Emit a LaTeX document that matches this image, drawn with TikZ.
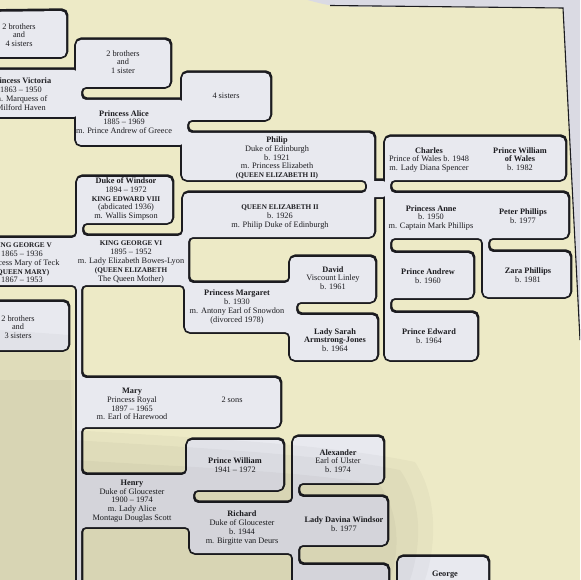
\documentclass[tikz,border=0pt]{standalone}
\usepackage{fontspec}
\setmainfont{Liberation Serif}
\usepackage{tikz}
\definecolor{paper}{HTML}{EDEAC6}
\definecolor{card}{HTML}{E8E9EF}
\definecolor{ink}{HTML}{1C1C20}
\definecolor{desk}{HTML}{DADAE3}
\tikzset{
  outline/.style={draw=ink, line width=3.6pt, rounded corners=5pt},
  card/.style={fill=card, rounded corners=5pt},
  famtext/.style={align=center, font=\fontsize{8.3}{8.8}\selectfont, text=ink, inner sep=0pt},
  handshade/.style={fill=black, opacity=0.026}
}
% capital titles are set a little smaller
\newcommand{\royal}[1]{{\fontsize{7.2}{8.8}\selectfont\bfseries #1}}
% the white sheet of the chart, one closed outline per family
\newcommand{\chartsheet}{
  (-20,12) -- (66,11) -- (66,57) -- (-20,57) -- cycle
  (-20,70) -- (79,70) -- (79,117) -- (-20,117) -- cycle
  (76,40) -- (170,40) -- (170,87) -- (81,87) -- (81,100) -- (185,100) -- (185,145) -- (76,145) -- cycle
  (182,73) -- (270,73) -- (270,120) -- (187,120) -- (187,133) -- (374,133) -- (374,237)
    -- (183,237) -- (183,193) -- (367,193) -- (367,180) -- (182,180) -- cycle
  (368,181) -- (388,181) -- (388,197) -- (368,197) -- cycle
  (385,137) -- (565,137) -- (565,180) -- (390,180) -- (390,193) -- (568,193) -- (568,238)
    -- (488,238) -- (488,252) -- (570,252) -- (570,297) -- (483,297) -- (483,238)
    -- (390,238) -- (390,253) -- (473,253) -- (473,298) -- (390,298) -- (390,313)
    -- (477,313) -- (477,360) -- (385,360) -- cycle
  (-20,238) -- (77,238) -- (77,177) -- (172,177) -- (172,223) -- (82,223) -- (82,236)
    -- (183,236) -- (183,205) -- (200,205) -- (200,237) -- (188,237) -- (188,283)
    -- (290,283) -- (290,257) -- (375,257) -- (375,302) -- (296,302) -- (296,315)
    -- (377,315) -- (377,360) -- (290,360) -- (290,332) -- (185,332) -- (185,285)
    -- (81,285) -- (81,378) -- (280,378) -- (280,427) -- (81,427) -- (81,475)
    -- (187,475) -- (187,440) -- (283,440) -- (283,490) -- (193,490) -- (193,503)
    -- (293,503) -- (293,437) -- (383,437) -- (383,483) -- (298,483) -- (298,497)
    -- (387,497) -- (387,545) -- (298,545) -- (298,565) -- (388,565) -- (388,600)
    -- (293,600) -- (293,553) -- (190,553) -- (190,527) -- (81,527) -- (81,600)
    -- (77,600) -- (77,285) -- (-20,285) -- cycle
  (-20,302) -- (68,302) -- (68,350) -- (-20,350) -- cycle
  (398,557) -- (488,557) -- (488,600) -- (398,600) -- cycle
}

\begin{document}
\begin{tikzpicture}[x=1pt,y=-1pt]
  \useasboundingbox (0,0) rectangle (580,580);
  \clip (0,0) rectangle (580,580);
  \fill[paper] (0,0) rectangle (580,580);
  \fill[desk] (300,-2) -- (582,-2) -- (582,345) -- (580,340) -- (563,8)
    -- (350,6.5) .. controls (330,6) .. (300,-2) -- cycle;
  \draw[ink, line width=1.1pt] (330,5.5) -- (563,8) -- (580,340);

  \draw[outline, shift={(0.6,-0.9)}] \chartsheet;
  \draw[outline] \chartsheet;
  \fill[card] \chartsheet;

  \node[famtext] (sibsA) at (19,35) {2 brothers\\and\\4 sisters};
  \node[famtext] (victoria) at (21,94) {\textbf{Princess Victoria}\\1863 -- 1950\\m. Marquess of\\Milford Haven};
  \node[famtext] (sibsB) at (123,62) {2 brothers\\and\\1 sister};
  \node[famtext] (alice) at (124,122) {\textbf{Princess Alice}\\1885 -- 1969\\m. Prince Andrew of Greece};
  \node[famtext] (sisters) at (226,96) {4 sisters};
  \node[famtext] (philip) at (277,158) {\textbf{Philip}\\Duke of Edinburgh\\b. 1921\\m. Princess Elizabeth\\\royal{(QUEEN ELIZABETH II)}};
  \node[famtext] (charles) at (429,160) {\textbf{Charles}\\Prince of Wales b. 1948\\m. Lady Diana Spencer};
  \node[famtext] (william) at (520,159) {\textbf{Prince William}\\\textbf{of Wales}\\b. 1982};
  \node[famtext] (windsor) at (126,199) {\textbf{Duke of Windsor}\\1894 -- 1972\\\royal{KING EDWARD VIII}\\(abdicated 1936)\\m. Wallis Simpson};
  \node[famtext] (elizabeth) at (280,217) {\royal{QUEEN ELIZABETH II}\\b. 1926\\m. Philip Duke of Edinburgh};
  \node[famtext] (anne) at (431,218) {\textbf{Princess Anne}\\b. 1950\\m. Captain Mark Phillips};
  \node[famtext] (peter) at (523,216) {\textbf{Peter Phillips}\\b. 1977};
  \node[famtext] (georgeV) at (22,263) {\royal{KING GEORGE V}\\1865 -- 1936\\Princess Mary of Teck\\\royal{(QUEEN MARY)}\\1867 -- 1953};
  \node[famtext] (georgeVI) at (131,262) {\royal{KING GEORGE VI}\\1895 -- 1952\\m. Lady Elizabeth Bowes-Lyon\\\royal{(QUEEN ELIZABETH}\\The Queen Mother)};
  \node[famtext] (david) at (333,278) {\textbf{David}\\Viscount Linley\\b. 1961};
  \node[famtext] (andrew) at (428,276) {\textbf{Prince Andrew}\\b. 1960};
  \node[famtext] (zara) at (528,275) {\textbf{Zara Phillips}\\b. 1981};
  \node[famtext] (margaret) at (237,307) {\textbf{Princess Margaret}\\b. 1930\\m. Antony Earl of Snowdon\\(divorced 1978)};
  \node[famtext] (sarah) at (335,340) {\textbf{Lady Sarah}\\\textbf{Armstrong-Jones}\\b. 1964};
  \node[famtext] (edward) at (429,336) {\textbf{Prince Edward}\\b. 1964};
  \node[famtext] (sibsC) at (18,327) {2 brothers\\and\\3 sisters};
  \node[famtext] (mary) at (132,404) {\textbf{Mary}\\Princess Royal\\1897 -- 1965\\m. Earl of Harewood};
  \node[famtext] (sons) at (232,400) {2 sons};
  \node[famtext] (princewm) at (235,465) {\textbf{Prince William}\\1941 -- 1972};
  \node[famtext] (henry) at (132,501) {\textbf{Henry}\\Duke of Gloucester\\1900 -- 1974\\m. Lady Alice\\Montagu Douglas Scott};
  \node[famtext] (alexander) at (338,461) {\textbf{Alexander}\\Earl of Ulster\\b. 1974};
  \node[famtext] (richard) at (242,528) {\textbf{Richard}\\Duke of Gloucester\\b. 1944\\m. Birgitte van Deurs};
  \node[famtext] (davina) at (344,524) {\textbf{Lady Davina Windsor}\\b. 1977};
  \node[famtext] (george) at (445,575) {\textbf{George}};

  % shadow of the hand over the lower left, in three soft layers
  \fill[handshade] (0,330) -- (70,335) -- (72,430)
    .. controls (160,436) and (320,442) .. (415,462)
    .. controls (440,500) and (435,550) .. (425,580) -- (0,580) -- cycle;
  \fill[handshade] (0,350) -- (74,350) -- (74,440)
    .. controls (160,446) and (310,452) .. (400,470)
    .. controls (425,505) and (420,550) .. (410,580) -- (0,580) -- cycle;
  \fill[handshade] (0,380) -- (74,380) -- (76,460)
    .. controls (160,466) and (300,470) .. (380,485)
    .. controls (400,515) and (400,550) .. (390,580) -- (0,580) -- cycle;
\end{tikzpicture}
\end{document}
